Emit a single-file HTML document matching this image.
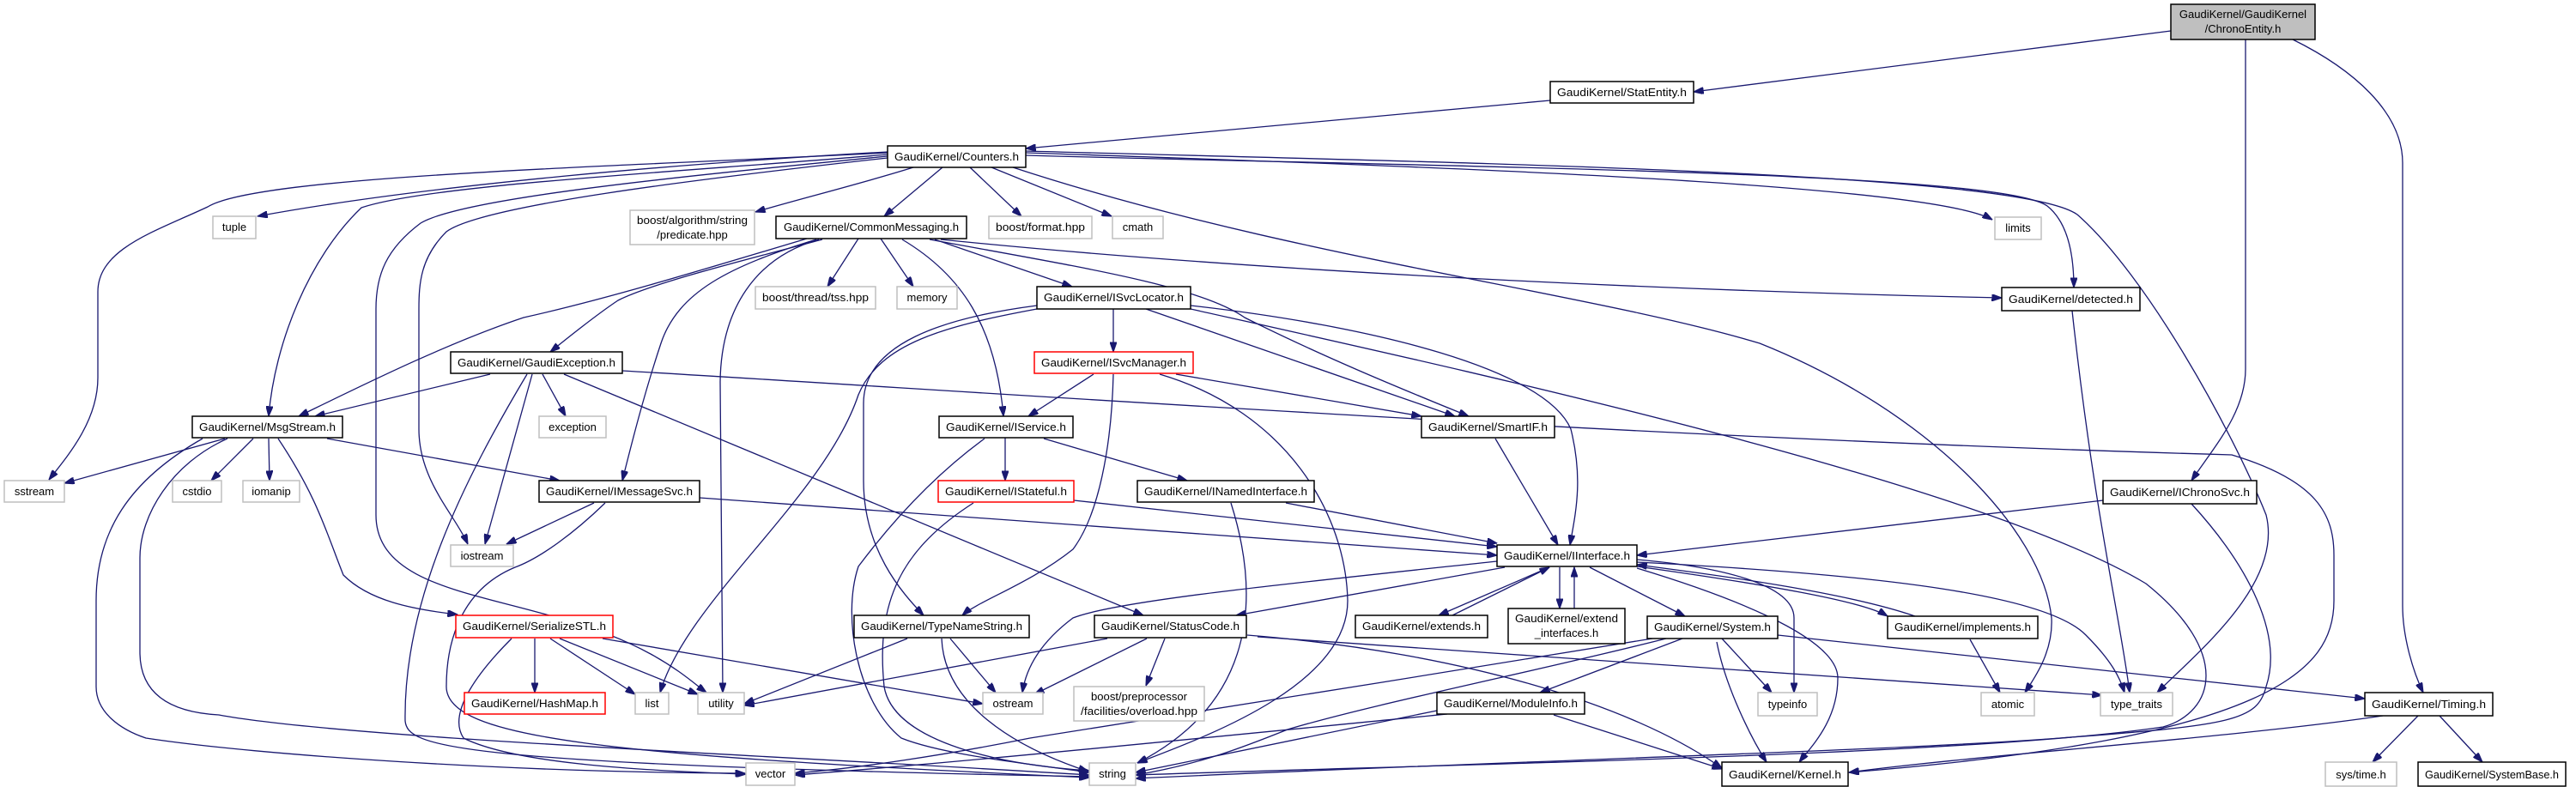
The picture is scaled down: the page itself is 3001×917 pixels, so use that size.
<!DOCTYPE html>
<html><head><meta charset="utf-8"><style>
html,body{margin:0;padding:0;background:#fff;}
svg{display:block;}
text{font-family:"Liberation Sans",sans-serif;font-size:13px;fill:#000;}
.e{fill:none;stroke:#191970;stroke-width:1.3;marker-end:url(#a);}
.n{fill:#fff;stroke:#000;stroke-width:1.5;}
.g{fill:#fff;stroke:#bfbfbf;stroke-width:1.5;}
.r{fill:#fff;stroke:#ff0000;stroke-width:1.5;}
.f{fill:#bfbfbf;stroke:#000;stroke-width:1.5;}
</style></head><body>
<svg width="3001" height="917" viewBox="0 0 3001 917" xmlns="http://www.w3.org/2000/svg">
<defs><marker id="a" viewBox="0 0 10 7" refX="10" refY="3.5" markerWidth="12" markerHeight="8" markerUnits="userSpaceOnUse" orient="auto"><path d="M0,0 L10,3.5 L0,7 z" fill="#191970" stroke="#191970"/></marker></defs>
<g>
<path class="e" d="M2529,36 L1973,107"/>
<path class="e" d="M2616,46 L2616,430 C2616,480 2580,520 2553,560"/>
<path class="e" d="M2671,46 C2740,80 2799,130 2799,190 L2799,706 C2799,740 2810,780 2823,807"/>
<path class="e" d="M1806,117 L1195,173"/>
<path class="e" d="M1034,177 C800,190 500,215 300,252"/>
<path class="e" d="M1034,178 C700,195 300,205 242,241 C180,270 114,290 114,340 L114,440 C114,490 80,530 57,559"/>
<path class="e" d="M1034,180 C800,200 500,215 421,242 C360,300 320,400 313,485"/>
<path class="e" d="M1034,182 C800,205 540,230 490,260 C450,290 438,320 438,360 L438,600 C438,680 550,690 650,720 C760,750 800,790 823,807"/>
<path class="e" d="M1034,184 C800,210 560,240 520,270 C490,300 488,330 488,360 L488,500 C488,560 530,600 545,634"/>
<path class="e" d="M1064,195 C1000,215 930,232 880,247"/>
<path class="e" d="M1098,195 L1030,252"/>
<path class="e" d="M1130,195 L1190,252"/>
<path class="e" d="M1155,195 L1295,252"/>
<path class="e" d="M1195,178 C1700,195 2250,215 2321,256"/>
<path class="e" d="M1195,181 C1700,195 2330,200 2385,240 C2410,260 2416,300 2416,335"/>
<path class="e" d="M1195,176 C1700,190 2350,200 2420,250 C2500,320 2600,500 2640,600 C2660,680 2560,760 2513,807"/>
<path class="e" d="M1180,195 C1500,300 1850,340 2050,400 C2250,480 2380,620 2390,720 C2392,760 2370,790 2359,807"/>
<path class="e" d="M1000,278 L964,334"/>
<path class="e" d="M1026,278 L1064,334"/>
<path class="e" d="M940,278 C800,320 700,350 610,370 C520,400 420,450 348,485"/>
<path class="e" d="M958,279 C860,305 760,330 720,350 C690,370 660,395 641,410"/>
<path class="e" d="M951,279 C850,310 790,340 770,400 C750,460 735,520 725,560"/>
<path class="e" d="M954,279 C880,300 840,360 839,445 L842,807"/>
<path class="e" d="M1051,279 C1120,320 1160,380 1169,485"/>
<path class="e" d="M1089,279 L1249,334"/>
<path class="e" d="M1083,279 C1250,310 1396,332 1450,370 C1550,420 1650,460 1711,485"/>
<path class="e" d="M1096,279 C1500,320 2000,340 2332,347"/>
<path class="e" d="M571,436 L367,485"/>
<path class="e" d="M632,436 L659,485"/>
<path class="e" d="M620,436 L565,634"/>
<path class="e" d="M614,436 C540,560 470,700 472,840 C475,870 520,890 1269,905"/>
<path class="e" d="M657,436 L1332,717"/>
<path class="e" d="M725,432 C1200,460 1900,510 2600,530 C2700,560 2719,600 2719,647 L2719,700 C2719,780 2650,860 2154,900"/>
<path class="e" d="M262,511 L75,563"/>
<path class="e" d="M295,511 L246,560"/>
<path class="e" d="M313,511 L314,560"/>
<path class="e" d="M381,511 L652,560"/>
<path class="e" d="M324,511 C370,580 380,620 400,670 C430,700 480,710 533,716"/>
<path class="e" d="M236,511 C150,560 112,620 112,700 L112,800 C112,830 140,850 170,860 C300,880 600,900 868,901"/>
<path class="e" d="M265,511 C200,540 163,600 163,650 L163,760 C163,810 200,830 255,833 C400,860 900,880 1269,903"/>
<path class="e" d="M692,586 L590,634"/>
<path class="e" d="M705,586 C670,620 630,650 600,661 C530,690 520,760 520,800 C520,860 700,880 1269,906"/>
<path class="e" d="M815,580 L1744,647"/>
<path class="e" d="M1297,360 L1297,410"/>
<path class="e" d="M1335,360 L1695,485"/>
<path class="e" d="M1387,356 C1600,380 1800,430 1830,500 C1845,560 1835,600 1829,635"/>
<path class="e" d="M1208,360 C1100,380 1025,400 1000,460 C960,580 800,700 769,807"/>
<path class="e" d="M1208,356 C1100,370 1006,400 1006,470 L1006,560 C1006,640 1050,690 1076,717"/>
<path class="e" d="M1387,360 C1700,430 2300,560 2500,680 C2600,760 2580,830 2520,847 C2300,880 1700,890 1323,903"/>
<path class="e" d="M1274,436 L1198,485"/>
<path class="e" d="M1370,436 L1656,485"/>
<path class="e" d="M1297,436 C1295,520 1280,600 1250,640 C1200,680 1140,700 1121,717"/>
<path class="e" d="M1351,436 C1500,480 1568,600 1570,700 C1570,800 1400,860 1325,889"/>
<path class="e" d="M1171,510 L1171,560"/>
<path class="e" d="M1216,511 L1383,560"/>
<path class="e" d="M1147,511 C1080,560 1030,620 1000,660 C980,720 1000,820 1050,860 C1100,880 1200,890 1269,900"/>
<path class="e" d="M1251,583 L1744,637"/>
<path class="e" d="M1134,586 C1050,640 1020,700 1030,800 C1040,860 1150,890 1269,898"/>
<path class="e" d="M1498,586 L1744,633"/>
<path class="e" d="M1434,586 C1470,700 1460,820 1325,889"/>
<path class="e" d="M1742,511 L1815,635"/>
<path class="e" d="M2450,583 L1907,647"/>
<path class="e" d="M2553,587 C2620,660 2660,740 2640,800 C2630,840 2600,845 2400,860 C2200,875 1800,885 1323,907"/>
<path class="e" d="M2776,834 C2600,860 2300,880 2154,900"/>
<path class="e" d="M2817,834 L2764,888"/>
<path class="e" d="M2842,834 L2892,888"/>
<path class="e" d="M1753,661 L1440,717"/>
<path class="e" d="M1744,654 C1500,680 1300,700 1250,720 C1210,750 1195,780 1191,807"/>
<path class="e" d="M1805,661 L1676,717"/>
<path class="e" d="M1692,717 L1805,661"/>
<path class="e" d="M1817,661 L1817,709"/>
<path class="e" d="M1834,709 L1834,661"/>
<path class="e" d="M1852,661 L1963,718"/>
<path class="e" d="M1907,660 C2050,680 2170,700 2199,718"/>
<path class="e" d="M2231,718 C2150,690 2000,670 1907,658"/>
<path class="e" d="M1907,652 C2000,660 2090,680 2090,720 L2090,807"/>
<path class="e" d="M1907,662 C2000,690 2141,740 2141,790 C2141,840 2110,870 2096,888"/>
<path class="e" d="M1907,655 C2200,670 2385,694 2430,740 C2460,770 2470,790 2475,807"/>
<path class="e" d="M2006,744 L2064,807"/>
<path class="e" d="M2000,748 C2010,800 2040,860 2058,888"/>
<path class="e" d="M2071,740 L2755,814"/>
<path class="e" d="M1960,744 L1794,807"/>
<path class="e" d="M1941,744 C1800,780 1600,820 1500,850 C1450,870 1400,890 1323,903"/>
<path class="e" d="M1925,744 C1700,780 1400,830 1200,860 C1100,880 1000,895 926,901"/>
<path class="e" d="M2295,745 L2330,807"/>
<path class="e" d="M1674,828 L1323,900"/>
<path class="e" d="M1810,833 L2006,896"/>
<path class="e" d="M1686,832 C1400,860 1100,890 926,903"/>
<path class="e" d="M2414,362 C2440,600 2470,720 2481,807"/>
<path class="e" d="M1107,744 L1160,807"/>
<path class="e" d="M1097,744 C1100,820 1180,870 1268,899"/>
<path class="e" d="M1057,744 L867,820"/>
<path class="e" d="M1336,744 L1205,809"/>
<path class="e" d="M1290,744 L867,822"/>
<path class="e" d="M1357,744 L1335,799"/>
<path class="e" d="M1453,740 C1700,760 1900,820 2006,895"/>
<path class="e" d="M1465,742 L2449,810"/>
<path class="e" d="M623,744 L623,807"/>
<path class="e" d="M641,744 L740,809"/>
<path class="e" d="M652,744 L813,809"/>
<path class="e" d="M596,744 C560,780 520,830 540,860 C600,890 750,898 869,902"/>
<path class="e" d="M702,744 L1145,820"/>
</g>
<g>
<rect class="f" x="2529" y="5" width="168" height="41"/><text x="2613" y="21" text-anchor="middle">GaudiKernel/GaudiKernel</text><text x="2613" y="38" text-anchor="middle">/ChronoEntity.h</text>
<rect class="n" x="1806" y="95" width="167" height="25"/><text x="1889.5" y="112" text-anchor="middle" textLength="151" lengthAdjust="spacingAndGlyphs">GaudiKernel/StatEntity.h</text>
<rect class="n" x="1034" y="170" width="161" height="25"/><text x="1114.5" y="187" text-anchor="middle" textLength="145" lengthAdjust="spacingAndGlyphs">GaudiKernel/Counters.h</text>
<rect class="g" x="248" y="252" width="50" height="26"/><text x="273" y="269" text-anchor="middle">tuple</text>
<rect class="g" x="734" y="245" width="145" height="40"/><text x="806.5" y="261" text-anchor="middle" textLength="129" lengthAdjust="spacingAndGlyphs">boost/algorithm/string</text><text x="806.5" y="278" text-anchor="middle">/predicate.hpp</text>
<rect class="n" x="904" y="252" width="222" height="26"/><text x="1015" y="269" text-anchor="middle" textLength="204" lengthAdjust="spacingAndGlyphs">GaudiKernel/CommonMessaging.h</text>
<rect class="g" x="1152" y="252" width="120" height="26"/><text x="1212" y="269" text-anchor="middle" textLength="104" lengthAdjust="spacingAndGlyphs">boost/format.hpp</text>
<rect class="g" x="1296" y="252" width="59" height="26"/><text x="1325.5" y="269" text-anchor="middle">cmath</text>
<rect class="g" x="2324" y="253" width="54" height="26"/><text x="2351" y="270" text-anchor="middle">limits</text>
<rect class="g" x="880" y="334" width="140" height="26"/><text x="950" y="351" text-anchor="middle" textLength="124" lengthAdjust="spacingAndGlyphs">boost/thread/tss.hpp</text>
<rect class="g" x="1045" y="334" width="70" height="26"/><text x="1080" y="351" text-anchor="middle">memory</text>
<rect class="n" x="1208" y="334" width="179" height="26"/><text x="1297.5" y="351" text-anchor="middle" textLength="163" lengthAdjust="spacingAndGlyphs">GaudiKernel/ISvcLocator.h</text>
<rect class="n" x="2332" y="335" width="161" height="27"/><text x="2412.5" y="353" text-anchor="middle" textLength="145" lengthAdjust="spacingAndGlyphs">GaudiKernel/detected.h</text>
<rect class="n" x="525" y="410" width="200" height="25"/><text x="625" y="427" text-anchor="middle" textLength="184" lengthAdjust="spacingAndGlyphs">GaudiKernel/GaudiException.h</text>
<rect class="r" x="1205" y="410" width="185" height="25"/><text x="1297.5" y="427" text-anchor="middle" textLength="169" lengthAdjust="spacingAndGlyphs">GaudiKernel/ISvcManager.h</text>
<rect class="n" x="224" y="485" width="175" height="25"/><text x="311.5" y="502" text-anchor="middle" textLength="159" lengthAdjust="spacingAndGlyphs">GaudiKernel/MsgStream.h</text>
<rect class="g" x="628" y="485" width="78" height="25"/><text x="667" y="502" text-anchor="middle">exception</text>
<rect class="n" x="1094" y="485" width="156" height="25"/><text x="1172" y="502" text-anchor="middle" textLength="140" lengthAdjust="spacingAndGlyphs">GaudiKernel/IService.h</text>
<rect class="n" x="1656" y="485" width="155" height="25"/><text x="1733.5" y="502" text-anchor="middle" textLength="139" lengthAdjust="spacingAndGlyphs">GaudiKernel/SmartIF.h</text>
<rect class="g" x="5" y="560" width="70" height="25"/><text x="40" y="577" text-anchor="middle">sstream</text>
<rect class="g" x="201" y="560" width="57" height="25"/><text x="229.5" y="577" text-anchor="middle">cstdio</text>
<rect class="g" x="283" y="560" width="66" height="25"/><text x="316" y="577" text-anchor="middle">iomanip</text>
<rect class="n" x="628" y="560" width="187" height="25"/><text x="721.5" y="577" text-anchor="middle" textLength="171" lengthAdjust="spacingAndGlyphs">GaudiKernel/IMessageSvc.h</text>
<rect class="r" x="1093" y="560" width="158" height="25"/><text x="1172" y="577" text-anchor="middle" textLength="142" lengthAdjust="spacingAndGlyphs">GaudiKernel/IStateful.h</text>
<rect class="n" x="1325" y="560" width="206" height="25"/><text x="1428" y="577" text-anchor="middle" textLength="190" lengthAdjust="spacingAndGlyphs">GaudiKernel/INamedInterface.h</text>
<rect class="n" x="2450" y="560" width="179" height="27"/><text x="2539.5" y="578" text-anchor="middle" textLength="163" lengthAdjust="spacingAndGlyphs">GaudiKernel/IChronoSvc.h</text>
<rect class="g" x="525" y="635" width="73" height="25"/><text x="561.5" y="652" text-anchor="middle">iostream</text>
<rect class="n" x="1744" y="635" width="163" height="25"/><text x="1825.5" y="652" text-anchor="middle" textLength="147" lengthAdjust="spacingAndGlyphs">GaudiKernel/IInterface.h</text>
<rect class="r" x="531" y="717" width="183" height="26"/><text x="622.5" y="734" text-anchor="middle" textLength="167" lengthAdjust="spacingAndGlyphs">GaudiKernel/SerializeSTL.h</text>
<rect class="n" x="995" y="717" width="204" height="26"/><text x="1097" y="734" text-anchor="middle" textLength="188" lengthAdjust="spacingAndGlyphs">GaudiKernel/TypeNameString.h</text>
<rect class="n" x="1275" y="717" width="177" height="26"/><text x="1363.5" y="734" text-anchor="middle" textLength="161" lengthAdjust="spacingAndGlyphs">GaudiKernel/StatusCode.h</text>
<rect class="n" x="1579" y="717" width="154" height="26"/><text x="1656" y="734" text-anchor="middle" textLength="138" lengthAdjust="spacingAndGlyphs">GaudiKernel/extends.h</text>
<rect class="n" x="1757" y="709" width="136" height="41"/><text x="1825" y="725" text-anchor="middle" textLength="120" lengthAdjust="spacingAndGlyphs">GaudiKernel/extend</text><text x="1825" y="742" text-anchor="middle">_interfaces.h</text>
<rect class="n" x="1919" y="718" width="152" height="26"/><text x="1995" y="735" text-anchor="middle" textLength="136" lengthAdjust="spacingAndGlyphs">GaudiKernel/System.h</text>
<rect class="n" x="2199" y="718" width="175" height="26"/><text x="2286.5" y="735" text-anchor="middle" textLength="159" lengthAdjust="spacingAndGlyphs">GaudiKernel/implements.h</text>
<rect class="r" x="541" y="807" width="164" height="25"/><text x="623" y="824" text-anchor="middle" textLength="148" lengthAdjust="spacingAndGlyphs">GaudiKernel/HashMap.h</text>
<rect class="g" x="740" y="807" width="39" height="25"/><text x="759.5" y="824" text-anchor="middle">list</text>
<rect class="g" x="813" y="807" width="54" height="25"/><text x="840" y="824" text-anchor="middle">utility</text>
<rect class="g" x="1145" y="807" width="70" height="25"/><text x="1180" y="824" text-anchor="middle">ostream</text>
<rect class="g" x="1251" y="800" width="152" height="40"/><text x="1327" y="816" text-anchor="middle" textLength="112" lengthAdjust="spacingAndGlyphs">boost/preprocessor</text><text x="1327" y="833" text-anchor="middle" textLength="136" lengthAdjust="spacingAndGlyphs">/facilities/overload.hpp</text>
<rect class="n" x="1674" y="807" width="172" height="25"/><text x="1760" y="824" text-anchor="middle" textLength="156" lengthAdjust="spacingAndGlyphs">GaudiKernel/ModuleInfo.h</text>
<rect class="g" x="2048" y="807" width="69" height="27"/><text x="2082.5" y="825" text-anchor="middle">typeinfo</text>
<rect class="g" x="2308" y="807" width="62" height="27"/><text x="2339" y="825" text-anchor="middle">atomic</text>
<rect class="g" x="2447" y="807" width="84" height="27"/><text x="2489" y="825" text-anchor="middle">type_traits</text>
<rect class="n" x="2755" y="807" width="149" height="27"/><text x="2829.5" y="825" text-anchor="middle" textLength="133" lengthAdjust="spacingAndGlyphs">GaudiKernel/Timing.h</text>
<rect class="g" x="869" y="889" width="57" height="26"/><text x="897.5" y="906" text-anchor="middle">vector</text>
<rect class="g" x="1269" y="889" width="54" height="26"/><text x="1296" y="906" text-anchor="middle">string</text>
<rect class="n" x="2006" y="888" width="147" height="28"/><text x="2079.5" y="907" text-anchor="middle" textLength="131" lengthAdjust="spacingAndGlyphs">GaudiKernel/Kernel.h</text>
<rect class="g" x="2709" y="888" width="83" height="28"/><text x="2750.5" y="907" text-anchor="middle">sys/time.h</text>
<rect class="n" x="2817" y="888" width="172" height="28"/><text x="2903" y="907" text-anchor="middle" textLength="156" lengthAdjust="spacingAndGlyphs">GaudiKernel/SystemBase.h</text>
</g>
</svg>
</body></html>
